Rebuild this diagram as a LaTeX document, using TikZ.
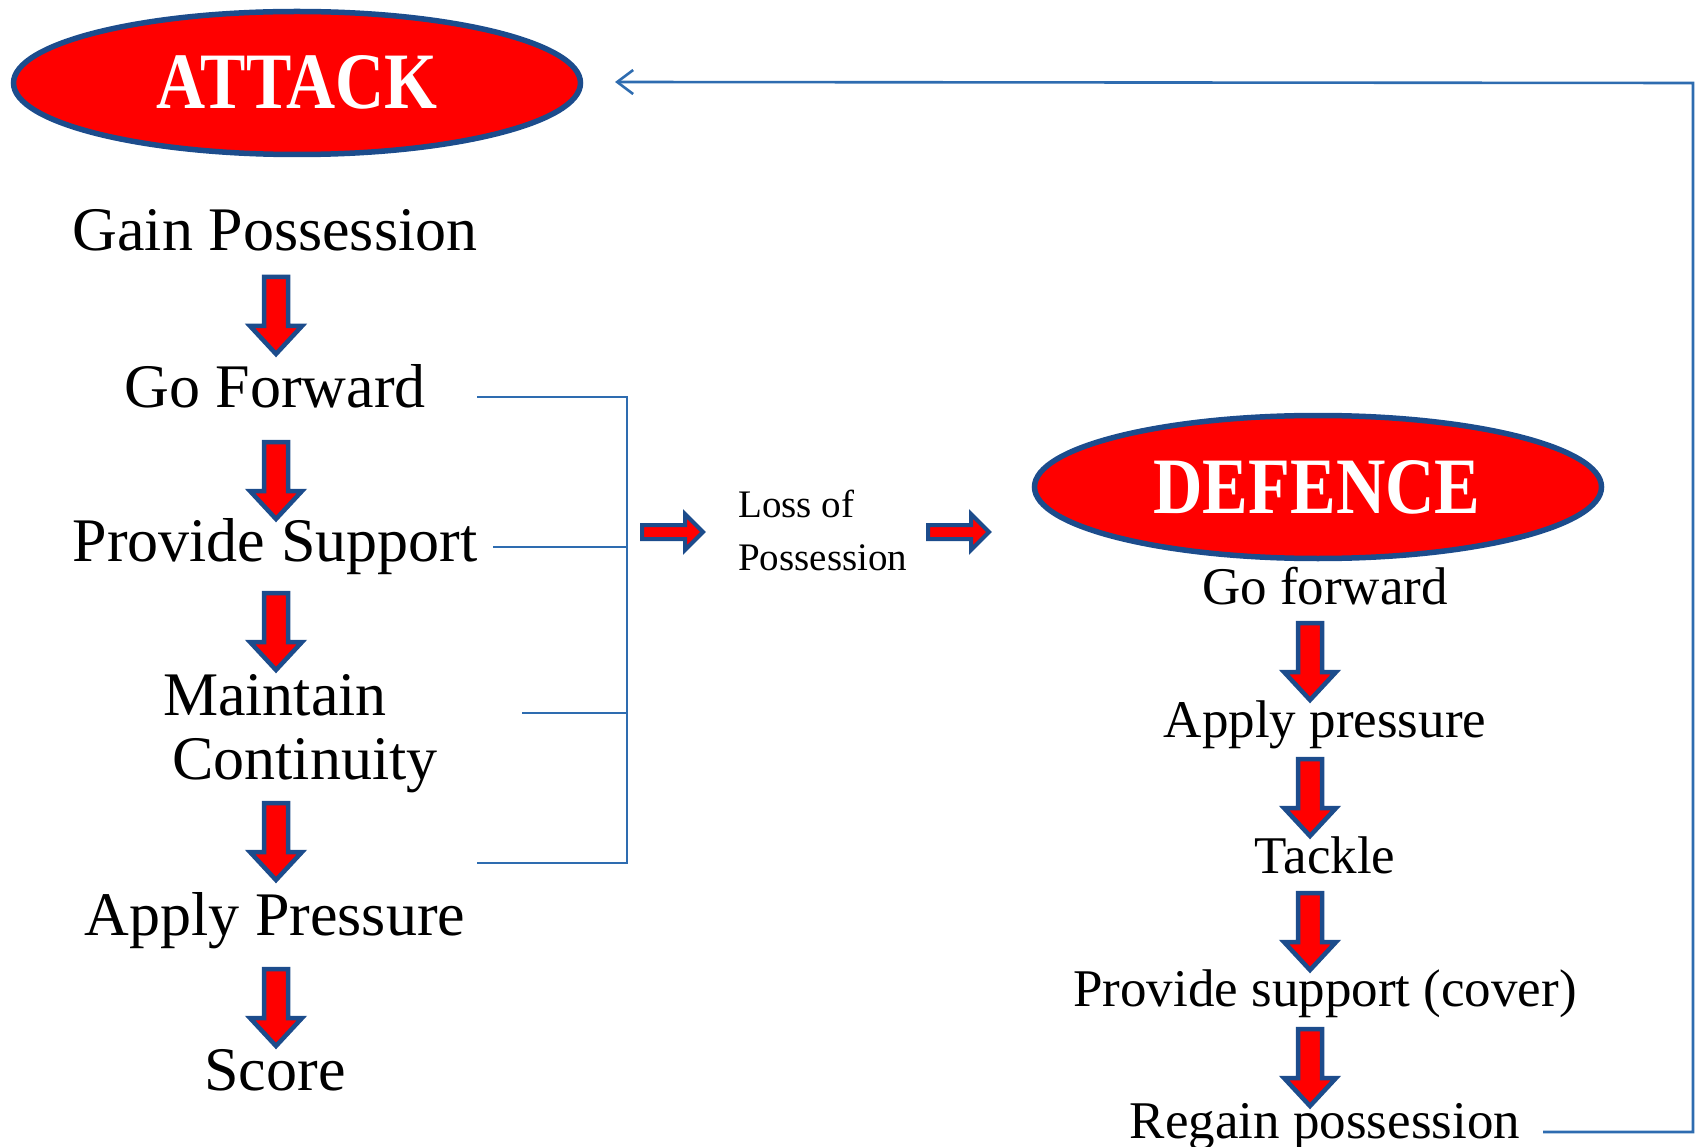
\documentclass[tikz,border=0pt]{standalone}
\usepackage{fontspec}
\usepackage{graphicx}
\setmainfont{Liberation Serif}
\usetikzlibrary{shapes.geometric,arrows.meta}
\definecolor{dblue}{RGB}{28,76,140}
\definecolor{lblue}{RGB}{46,108,176}
\definecolor{bred}{RGB}{255,0,0}
\tikzset{
  bigtxt/.style={font=\fontsize{62}{62}\selectfont, inner sep=0pt, anchor=base},
  smalltxt/.style={font=\fontsize{53}{53}\selectfont, inner sep=0pt, anchor=base},
  losstxt/.style={font=\fontsize{39}{39}\selectfont, inner sep=0pt, anchor=base west},
  oval/.style={ellipse, draw=dblue, line width=5.5pt, fill=bred, minimum width=567pt, minimum height=143pt, inner sep=0pt},
  titletxt/.style={text=white, font=\bfseries\fontsize{80}{80}\selectfont, inner sep=0pt},
  barrow/.style={draw=dblue, fill=bred, line width=4.5pt, line join=miter},
  barrowh/.style={draw=dblue, fill=bred, line width=4pt, line join=miter},
  conn/.style={draw=lblue, line width=2.6pt},
  downarr/.pic={\draw[barrow] (-12,2) -- (12,2) -- (12,51) -- (26,51) -- (0,79) -- (-26,51) -- (-12,51) -- cycle;},
  rightarr/.pic={\draw[barrowh] (2,-7) -- (45,-7) -- (45,-18) -- (63,0) -- (45,18) -- (45,7) -- (2,7) -- cycle;},
}
\begin{document}
\begin{tikzpicture}[x=1pt,y=-1pt]
\useasboundingbox (0,0) rectangle (1700,1147);

% ellipses
\node[oval] (attack) at (297,83) {};
\node[titletxt] (attacktxt) at (297,82) {\scalebox{0.85}[1]{ATTACK}};
\node[oval] (defence) at (1318,487) {};
\node[titletxt] (defencetxt) at (1317,487) {\scalebox{0.855}[1]{DEFENCE}};

% attack column
\node[bigtxt] (gain) at (275,251) {Gain Possession};
\node[bigtxt] (gofwd) at (275,407) {Go Forward};
\node[bigtxt] (support) at (275,561) {Provide Support};
\node[bigtxt] (maint) at (275,715) {Maintain};
\node[bigtxt] (cont) at (305,779) {Continuity};
\node[bigtxt] (applyp) at (275,935) {Apply Pressure};
\node[bigtxt] (score) at (275,1090) {Score};

\pic (a1) at (276,275) {downarr};
\pic (a2) at (276,440) {downarr};
\pic (a3) at (276,591) {downarr};
\pic (a4) at (276,801) {downarr};
\pic (a5) at (276,967) {downarr};

% defence column
\node[smalltxt] (dgo) at (1325,604) {Go forward};
\node[smalltxt] (dapply) at (1325,737) {Apply pressure};
\node[smalltxt] (dtackle) at (1325,873) {Tackle};
\node[smalltxt] (dsupport) at (1325,1006) {Provide support (cover)};
\node[smalltxt] (dregain) at (1325,1138) {Regain possession};

\pic (d1) at (1310,621) {downarr};
\pic (d2) at (1310,757) {downarr};
\pic (d3) at (1310,891) {downarr};
\pic (d4) at (1310,1027) {downarr};

% loss of possession
\node[losstxt] (loss1) at (738,517) {Loss of};
\node[losstxt] (loss2) at (738,570) {Possession};
\pic (l1) at (640,532) {rightarr};
\pic (l2) at (926,532) {rightarr};

% bracket
\coordinate (b1) at (477,397);
\coordinate (b2) at (493,547);
\coordinate (b3) at (522,713);
\coordinate (b4) at (477,863);
\coordinate (bt) at (627,397);
\coordinate (bm2) at (627,547);
\coordinate (bm3) at (627,713);
\coordinate (bb) at (627,863);
\draw[conn] (b1) -- (bt) -- (bb) -- (b4);
\draw[conn] (b2) -- (bm2);
\draw[conn] (b3) -- (bm3);

% feedback loop
\coordinate (f1) at (1543,1132);
\coordinate (f2) at (1693,1132);
\coordinate (f3) at (1693,83);
\coordinate (f4) at (615,82);
\draw[conn, -{Straight Barb[length=16pt,width=24pt,line width=2.6pt]}] (f1) -- (f2) -- (f3) -- (f4);
\end{tikzpicture}
\end{document}
